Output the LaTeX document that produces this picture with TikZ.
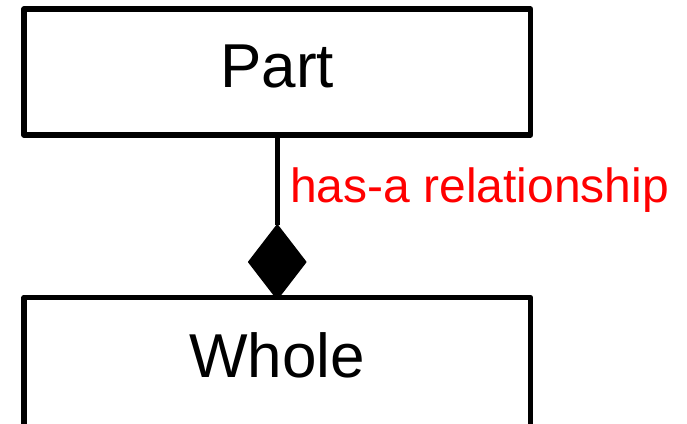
\documentclass[tikz,border=0pt]{standalone}
\usepackage{fontspec}
\setmainfont{Liberation Sans}
\usetikzlibrary{shapes.geometric}
\definecolor{relred}{RGB}{255,0,0}
\tikzset{
  classbox/.style={draw=black, line width=5.5pt, line join=round, rectangle,
    minimum width=506.5pt, inner sep=0pt, outer sep=0pt,
    font=\fontsize{62}{70}\selectfont},
  aggdiamond/.style={diamond, draw=black, fill=black, line width=1.5pt,
    line join=round, inner sep=0pt, outer sep=0pt, aspect=0.8,
    minimum width=57pt, minimum height=74pt},
  link/.style={draw=black, line width=5.5pt},
  rellabel/.style={text=relred, inner sep=0pt, font=\fontsize{48}{56}\selectfont}
}
\begin{document}
\begin{tikzpicture}[x=1pt, y=-1pt]
  \useasboundingbox (0,0) rectangle (687,423);
  \clip (0,0) rectangle (687,423);
  % the two classes; the lower one runs past the bottom edge
  \node[classbox, minimum height=126pt, text height=44pt, text depth=14pt]
    (part) at (277.25,72) {Part};
  \node[classbox, minimum height=140pt, text height=45pt, text depth=26pt]
    (whole) at (277.25,367.5) {Whole};
  % aggregation diamond sitting on the whole
  \node[aggdiamond, anchor=south] (agg) at ([yshift=-1.5pt]whole.north) {};
  \draw[link] (part.south) -- (agg.north);
  \node[rellabel, anchor=base west] (rel) at (290,202) {has-a relationship};
\end{tikzpicture}
\end{document}
